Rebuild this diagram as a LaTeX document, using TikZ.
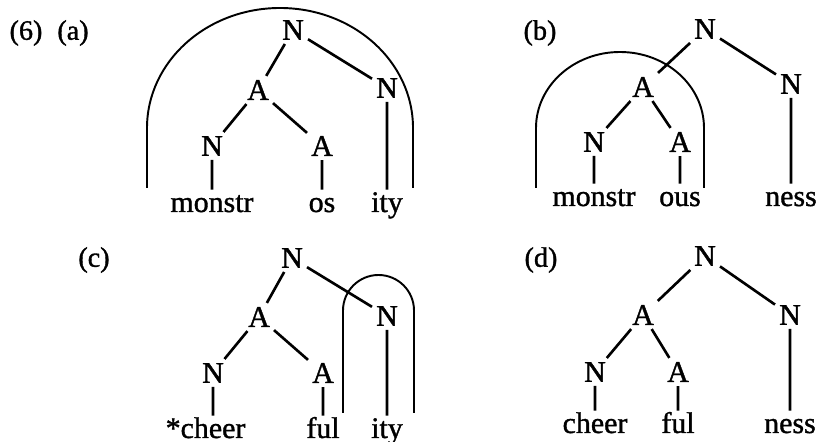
\documentclass[tikz,border=0pt]{standalone}
\usepackage{fontspec}
\setmainfont{Liberation Serif}[FakeBold=1.2]
\begin{document}
\begin{tikzpicture}[
  tag/.style={font=\fontsize{16}{19}\selectfont},
  cat/.style={inner sep=2.2pt,font=\fontsize{17}{20}\selectfont},
  morph/.style={anchor=base,inner sep=2.5pt,text height=10pt,text depth=3pt,font=\fontsize{17}{20}\selectfont},
  branch/.style={line width=1.5pt},
  arcline/.style={line width=1.1pt}]
\useasboundingbox (0,0) rectangle (16.34,8.84);
\node[tag] (n6) at (0.52,8.18) {(6)};
\node[tag] (la) at (1.46,8.18) {(a)};
\node[cat] (a1) at (5.86,8.24) {N};
\node[cat] (a2) at (5.16,7.04) {A};
\node[cat] (a3) at (7.74,7.08) {N};
\node[cat] (a4) at (4.24,5.92) {N};
\node[cat] (a5) at (6.44,5.92) {A};
\node[morph] (a6) at (4.24,4.60) {monstr};
\node[morph] (a7) at (6.44,4.60) {os};
\node[morph] (a8) at (7.74,4.60) {ity};
\draw[branch] (a1) -- (a2) (a1) -- (a3) (a2) -- (a4) (a2) -- (a5)
  (a4) -- (a6) (a5) -- (a7) (a3) -- (a8);
\draw[arcline] (2.94,5.08) -- (2.94,6.28) arc[start angle=180,end angle=0,x radius=2.66,y radius=2.40] -- (8.26,5.08);

\node[tag] (lb) at (10.80,8.18) {(b)};
\node[cat] (b1) at (14.10,8.26) {N};
\node[cat] (b2) at (12.86,7.10) {A};
\node[cat] (b3) at (15.82,7.16) {N};
\node[cat] (b4) at (11.88,6.00) {N};
\node[cat] (b5) at (13.60,6.00) {A};
\node[morph] (b6) at (11.88,4.72) {monstr};
\node[morph] (b7) at (13.60,4.72) {ous};
\node[morph] (b8) at (15.82,4.72) {ness};
\draw[branch] (b1) -- (b2) (b1) -- (b3) (b2) -- (b4) (b2) -- (b5)
  (b4) -- (b6) (b5) -- (b7) (b3) -- (b8);
\draw[arcline] (10.72,5.08) -- (10.72,6.28) arc[start angle=180,end angle=0,x radius=1.68,y radius=1.52] -- (14.08,5.08);

\node[tag] (lc) at (1.88,3.64) {(c)};
\node[cat] (c1) at (5.84,3.68) {N};
\node[cat] (c2) at (5.18,2.50) {A};
\node[cat] (c3) at (7.74,2.52) {N};
\node[cat] (c4) at (4.26,1.38) {N};
\node[cat] (c5) at (6.46,1.38) {A};
\node[morph] (c6) at (4.26,0.08) {\llap{*}cheer};
\node[morph] (c7) at (6.46,0.08) {ful};
\node[morph] (c8) at (7.74,0.08) {ity};
\draw[branch] (c1) -- (c2) (c1) -- (c3) (c2) -- (c4) (c2) -- (c5)
  (c4) -- (c6) (c5) -- (c7) (c3) -- (c8);
\draw[arcline] (6.86,0.58) -- (6.86,2.63) arc[start angle=180,end angle=0,radius=0.71] -- (8.28,0.58);

\node[tag] (ld) at (10.82,3.64) {(d)};
\node[cat] (d1) at (14.10,3.72) {N};
\node[cat] (d2) at (12.86,2.54) {A};
\node[cat] (d3) at (15.80,2.54) {N};
\node[cat] (d4) at (11.90,1.40) {N};
\node[cat] (d5) at (13.56,1.40) {A};
\node[morph] (d6) at (11.90,0.18) {cheer};
\node[morph] (d7) at (13.56,0.18) {ful};
\node[morph] (d8) at (15.80,0.18) {ness};
\draw[branch] (d1) -- (d2) (d1) -- (d3) (d2) -- (d4) (d2) -- (d5)
  (d4) -- (d6) (d5) -- (d7) (d3) -- (d8);
\end{tikzpicture}
\end{document}
